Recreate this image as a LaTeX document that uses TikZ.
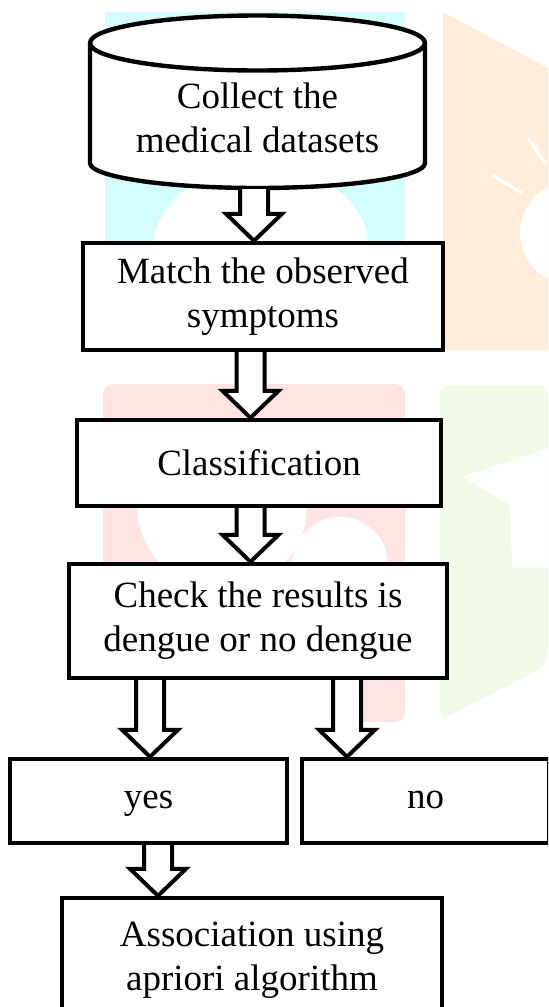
\documentclass[tikz,border=0pt]{standalone}
\usepackage{fontspec}
\setmainfont{Liberation Serif}
\usetikzlibrary{calc}

\definecolor{wmcyan}{RGB}{210,252,254}
\definecolor{wmorange}{RGB}{255,237,218}
\definecolor{wmred}{RGB}{255,228,228}
\definecolor{wmgreen}{RGB}{240,250,230}

% hollow block arrow from #2 down to the top of node #3, moved sideways by #1
\newcommand{\hollowarrow}[3][0pt]{%
  \draw[hollow] let \p1=([xshift=#1]#2), \p2=(#3.north) in
    (\x1-7pt,\y1) -- (\x1-7pt,\y2+13.5pt) -- (\x1-14pt,\y2+13.5pt) -- (\x1,\y2)
    -- (\x1+14pt,\y2+13.5pt) -- (\x1+7pt,\y2+13.5pt) -- (\x1+7pt,\y1);}

\begin{document}
\begin{tikzpicture}[x=0.5pt, y=0.5pt,
  box/.style={draw, fill=white, line width=2.2pt, align=center, inner sep=0pt,
              font=\fontsize{18.5}{22}\selectfont},
  oneline/.style={text height=0.72em, text depth=0pt},
  hollow/.style={draw, fill=white, line width=2pt, line join=miter}]
\useasboundingbox (0,0) rectangle (548,-1007);
\clip (0,0) rectangle (548,-1007);

% faint watermark behind the chart
\fill[wmcyan] (105,-12) rectangle (405,-345);
\fill[white] (154,-245) arc[start angle=180, end angle=0, x radius=107, y radius=78] -- cycle;
\fill[wmorange] (443,-12) -- (548,-68) -- (548,-350) -- (443,-350) -- cycle;
\fill[white] (572,-233) circle[radius=52];
\draw[white, line width=1.5pt] (528,-138) -- (545,-163) (492,-175) -- (522,-193);
\fill[wmred, rounded corners=5pt] (103,-384) rectangle (405,-722);
\fill[white] (222,-505) circle[radius=85];
\fill[white] (340,-565) circle[radius=48];
\fill[white] (100,-680) rectangle (362,-726);
\fill[wmgreen, rounded corners=5pt] (440,-385) -- (548,-385) -- (548,-665) -- (440,-720) -- cycle;
\fill[white] (462,-477) -- (548,-448) -- (548,-567) -- (512,-567) -- (510,-505) -- cycle;

% data store
\draw[line width=2.2pt, fill=white] (90,-43) -- (90,-163)
  arc[start angle=180, end angle=360, x radius=167.5, y radius=25] -- (425,-43)
  arc[start angle=0, end angle=180, x radius=167.5, y radius=27.5] -- cycle;
\draw[line width=2.2pt] (90,-43) arc[start angle=180, end angle=360, x radius=167.5, y radius=27.5];
\node[align=center, inner sep=0pt, font=\fontsize{18.5}{22}\selectfont] (collect) at (257.5,-117.5)
  {Collect the\\medical datasets};
\coordinate (dbbase) at (257.5,-189);

\node[box, minimum width=180pt, minimum height=53.5pt] (match) at (263,-296.5) {Match the observed\\symptoms};
\node[box, minimum width=182pt, minimum height=43pt] (classif) at (259,-463) {Classification};
\node[box, minimum width=189pt, minimum height=57pt] (check) at (258,-621) {Check the results is\\dengue or no dengue};
\node[box, oneline, minimum width=138.5pt, minimum height=42pt] (yes) at (148.5,-801) {yes};
\node[box, oneline, minimum width=123.5pt, minimum height=42pt] (no) at (425.5,-801) {no};
\node[box, minimum width=190pt, minimum height=62pt] (assoc) at (252,-960) {Association using\\apriori algorithm};

\hollowarrow[-1.75pt]{dbbase}{match}
\hollowarrow[-6.25pt]{match.south}{classif}
\hollowarrow[-4.25pt]{classif.south}{check}
\hollowarrow[-54pt]{check.south}{yes}
\hollowarrow[44.5pt]{check.south}{no}
\hollowarrow[4.75pt]{yes.south}{assoc}
\end{tikzpicture}
\end{document}
